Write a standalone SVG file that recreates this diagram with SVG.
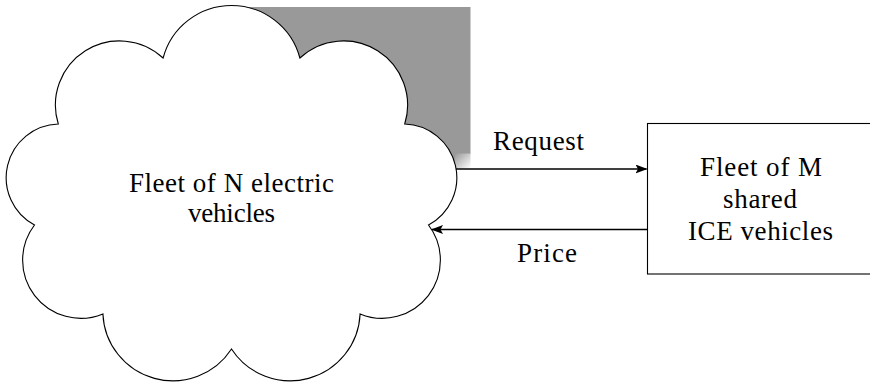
<svg xmlns="http://www.w3.org/2000/svg" width="870" height="382" viewBox="0 0 870 382">
<defs>
<style>
.lbl{font-family:"Liberation Serif","Times New Roman",serif;font-size:27px;fill:#000;text-anchor:middle}
.edge{stroke:#000;stroke-width:1.6;fill:none}
</style>
<marker id="ah" viewBox="0 0 12 9" refX="11" refY="4.5" markerWidth="12" markerHeight="9" markerUnits="userSpaceOnUse" orient="auto">
<path d="M0,0 L12,4.5 L0,9 L2.5,4.5 Z" fill="#000"/>
</marker>
<linearGradient id="fade" x1="0" y1="0" x2="1" y2="1">
<stop offset="0" stop-color="#999999"/>
<stop offset="1" stop-color="#ffffff"/>
</linearGradient>
</defs>
<rect width="870" height="382" fill="#fff"/>
<g id="shade">
<rect x="234" y="7" width="236.5" height="147" fill="#999999"/>
<rect x="234" y="153.5" width="221" height="15" fill="#999999"/>
<rect x="455" y="153.5" width="15.5" height="15" fill="url(#fade)"/>
</g>
<g id="cloud">
<path d="M163.1,58 A70.8,70.8 0 0 1 299.9,58 A64.1,64.1 0 0 1 404.7,124 A53.7,53.7 0 0 1 428.5,225 A58.1,58.1 0 0 1 360.1,313.9 A70,70 0 0 1 231.5,349 A70,70 0 0 1 102.9,313.9 A58.1,58.1 0 0 1 34.5,225 A53.7,53.7 0 0 1 58.3,124 A64.1,64.1 0 0 1 163.1,58 Z" fill="#fff" stroke="#000" stroke-width="1.1"/>
<text class="lbl" x="231.5" y="192" textLength="205">Fleet of N electric</text>
<text class="lbl" x="231.5" y="222" textLength="87">vehicles</text>
</g>
<g id="box">
<rect x="647.5" y="123.5" width="300" height="150.5" fill="#fff" stroke="#000" stroke-width="1.1"/>
<text class="lbl" x="761" y="176" textLength="122">Fleet of M</text>
<text class="lbl" x="760" y="208" textLength="74">shared</text>
<text class="lbl" x="760.5" y="240" textLength="145">ICE vehicles</text>
</g>
<g id="connectors">
<line class="edge" x1="456" y1="169" x2="646.5" y2="169" marker-end="url(#ah)"/>
<line class="edge" x1="647" y1="229.5" x2="432" y2="229.5" marker-end="url(#ah)"/>
<text class="lbl" x="538.5" y="150" textLength="91">Request</text>
<text class="lbl" x="547" y="262" textLength="60">Price</text>
</g>
</svg>
